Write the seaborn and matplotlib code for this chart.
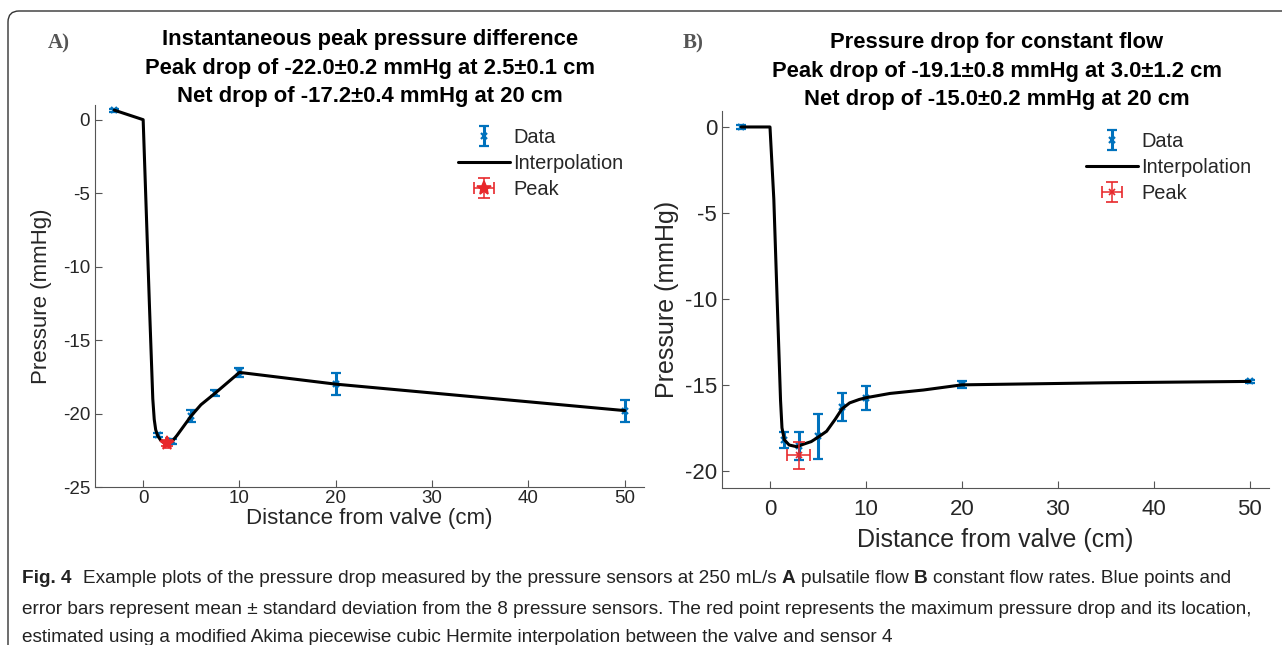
import numpy as np
import pandas as pd
import seaborn as sns
import matplotlib.pyplot as plt
from matplotlib.path import Path
from matplotlib.patches import PathPatch
from matplotlib.transforms import IdentityTransform

# ---- panel A: pulsatile flow ----
a_dist = [-3, 1.5, 3, 5, 7.5, 10, 20, 50]
a_mean = [0.65, -21.45, -21.9, -20.15, -18.6, -17.2, -18.0, -19.8]
a_sd = [0.1, 0.15, 0.2, 0.4, 0.2, 0.3, 0.75, 0.75]
a_peak_x, a_peak_y, a_peak_xsd, a_peak_ysd = 2.5, -22.0, 0.1, 0.2
# interpolation curve
a_curve_x = [-3, 0, 0.3, 0.65, 1.0, 1.15, 1.3, 1.5, 1.8, 2.1, 2.5, 3, 3.5, 4, 5, 6, 7.5, 10, 20, 50]
a_curve_y = [0.65, 0, -5.8, -12.6, -19.0, -20.4, -21.1, -21.5, -21.8, -21.95, -22.0, -21.9,
             -21.5, -21.05, -20.15, -19.4, -18.6, -17.2, -18.0, -19.8]

# ---- panel B: constant flow ----
b_dist = [-3, 1.5, 3, 5, 7.5, 10, 20, 50]
b_mean = [0.0, -18.2, -18.55, -18.0, -16.3, -15.75, -15.0, -14.8]
b_sd = [0.1, 0.48, 0.8, 1.3, 0.8, 0.7, 0.2, 0.1]
b_peak_x, b_peak_y, b_peak_xsd, b_peak_ysd = 3.0, -19.1, 1.2, 0.8
b_curve_x = [-3, 0, 0.4, 0.75, 1.1, 1.25, 1.5, 2.0, 2.8, 3.5, 4.3, 5.0, 5.9, 6.8, 7.5, 8.3,
             9.3, 10, 12.5, 16, 20, 35, 50]
b_curve_y = [0, 0, -4.2, -10.1, -15.9, -17.5, -18.2, -18.5, -18.6, -18.45, -18.3, -18.05,
             -17.7, -17.0, -16.4, -16.05, -15.85, -15.75, -15.5, -15.3, -15.0, -14.88, -14.8]

titles_a = ["Instantaneous peak pressure difference",
            "Peak drop of -22.0\u00b10.2 mmHg at 2.5\u00b10.1 cm",
            "Net drop of -17.2\u00b10.4 mmHg at 20 cm"]
titles_b = ["Pressure drop for constant flow",
            "Peak drop of -19.1\u00b10.8 mmHg at 3.0\u00b11.2 cm",
            "Net drop of -15.0\u00b10.2 mmHg at 20 cm"]
xticks = [0, 10, 20, 30, 40, 50]
yticks_a = [0, -5, -10, -15, -20, -25]
yticks_b = [0, -5, -10, -15, -20]

BLUE = "#0072BD"
RED = "#E8282B"
W, H = 1282, 645

sns.set_theme(style="ticks")
plt.rcParams['font.family'] = ['Liberation Sans', 'DejaVu Sans']
plt.rcParams['axes.unicode_minus'] = False

fig = plt.figure(figsize=(W / 100, H / 100), dpi=100)


def px_axes(left, top, right, bottom):
    return fig.add_axes([left / W, 1 - bottom / H, (right - left) / W, (bottom - top) / H])


def fig_text(x, y, s, **kw):
    return fig.text(x / W, 1 - y / H, s, **kw)


def panel(ax, dist, mean, sd, px, py, pxsd, pysd, cx, cy, peak_fmt, peak_ms,
          yticks, ylim, tick_size, label_size, xpad, xlabelpad, ylabelpad):
    sns.lineplot(x=cx, y=cy, color="black", lw=2.2, ax=ax, label="Interpolation", zorder=3)
    ax.errorbar(dist, mean, yerr=sd, fmt="x", color=BLUE, ms=5, mew=1.6,
                elinewidth=2.2, capsize=3.6, capthick=2.2, label="Data", zorder=2)
    ax.errorbar([px], [py], xerr=[pxsd], yerr=[pysd], fmt=peak_fmt, color=RED, ms=peak_ms,
                mew=1.2, elinewidth=1.1, capsize=4, capthick=1.1, label="Peak", zorder=4)
    ax.set_xlim(-5, 52)
    ax.set_ylim(*ylim)
    ax.set_xticks(xticks)
    ax.set_yticks(yticks)
    ax.tick_params(direction="in", length=5, width=0.8, colors="#555555",
                   labelcolor="#262626", labelsize=tick_size)
    ax.tick_params(axis="x", pad=xpad)
    for s in ["top", "right"]:
        ax.spines[s].set_visible(False)
    for s in ["left", "bottom"]:
        ax.spines[s].set_color("#555555")
        ax.spines[s].set_linewidth(0.8)
    ax.set_xlabel("Distance from valve (cm)", fontsize=label_size, color="#262626",
                  labelpad=xlabelpad)
    ax.set_ylabel("Pressure (mmHg)", fontsize=label_size, color="#262626", labelpad=ylabelpad)
    ax.set_facecolor("white")


ax_a = px_axes(95, 105, 644, 487)
panel(ax_a, a_dist, a_mean, a_sd, a_peak_x, a_peak_y, a_peak_xsd, a_peak_ysd,
      a_curve_x, a_curve_y, "*", 10, yticks_a, (-25, 1), 13.5, 16, 2.5, 0.5, 8)

ax_b = px_axes(722, 111.5, 1269, 488)
panel(ax_b, b_dist, b_mean, b_sd, b_peak_x, b_peak_y, b_peak_xsd, b_peak_ysd,
      b_curve_x, b_curve_y, "x", 4, yticks_b, (-21, 0.9), 16, 18, 8, 6, 4)

order = ["Data", "Interpolation", "Peak"]
for ax, (lx, ly) in [(ax_a, (458, 128)), (ax_b, (1086, 132))]:
    h, l = ax.get_legend_handles_labels()
    hd = dict(zip(l, h))
    ax.legend([hd[k] for k in order], order, loc="upper left",
              bbox_to_anchor=(lx / W, 1 - ly / H), bbox_transform=fig.transFigure,
              frameon=False, fontsize=14.4, handlelength=2.6, handletextpad=0.15,
              labelspacing=0.36, borderpad=0, borderaxespad=0)

# titles and panel letters
for lines, cx, base in [(titles_a, 370, [45, 74, 102]), (titles_b, 997, [48, 77, 105])]:
    for s, yb in zip(lines, base):
        fig_text(cx, yb, s, ha="center", va="baseline", fontsize=15.8,
                 fontweight="bold", color="black")
fig_text(48, 48, "A)", family=["Liberation Serif", "DejaVu Serif"], fontweight="bold",
         fontsize=15, color="#555555", va="baseline")
fig_text(683, 48, "B)", family=["Liberation Serif", "DejaVu Serif"], fontweight="bold",
         fontsize=15, color="#555555", va="baseline")

# rounded frame around the figure
disp = lambda x, y: (x, H - y)
verts = [disp(8, H + 10), disp(8, 22), disp(8, 11), disp(19, 11), disp(W + 10, 11)]
codes = [Path.MOVETO, Path.LINETO, Path.CURVE3, Path.CURVE3, Path.LINETO]
fig.add_artist(PathPatch(Path(verts, codes), fill=False, lw=1.0, ec="#333333",
                         transform=IdentityTransform()))

# caption
CAP_FONT = ["Liberation Sans", "DejaVu Sans"]
renderer = fig.canvas.get_renderer()
cap1 = [("Fig. 4", True), ("Example plots of the pressure drop measured by the pressure sensors at 250 mL/s", False),
        ("A", True), ("pulsatile flow", False), ("B", True),
        ("constant flow rates. Blue points and", False)]
cap2 = [("error bars represent mean \u00b1 standard deviation from the 8 pressure sensors. "
         "The red point represents the maximum pressure drop and its location,", False)]
cap3 = [("estimated using a modified Akima piecewise cubic Hermite interpolation between the valve and sensor 4", False)]


def cap_text(x, y, s, size, bold):
    return fig_text(x, y, s, fontsize=size, family=CAP_FONT,
                    fontweight="bold" if bold else "normal", va="baseline", color="#222222")


def width_of(s, size, bold):
    t = cap_text(0, 0, s, size, bold)
    w = t.get_window_extent(renderer).width
    t.remove()
    return w


size = min(10 * 1238 / width_of(cap2[0][0], 10, False), 14.5)
space = width_of("a a", size, False) - width_of("aa", size, False)

for parts, yb in [(cap1, 583), (cap2, 614), (cap3, 642)]:
    x = 22
    for s, bold in parts:
        t = cap_text(x, yb, s, size, bold)
        x += t.get_window_extent(renderer).width + (space * 2.2 if s == "Fig. 4" else space)

fig.savefig("out.png", dpi=100, facecolor="white")
